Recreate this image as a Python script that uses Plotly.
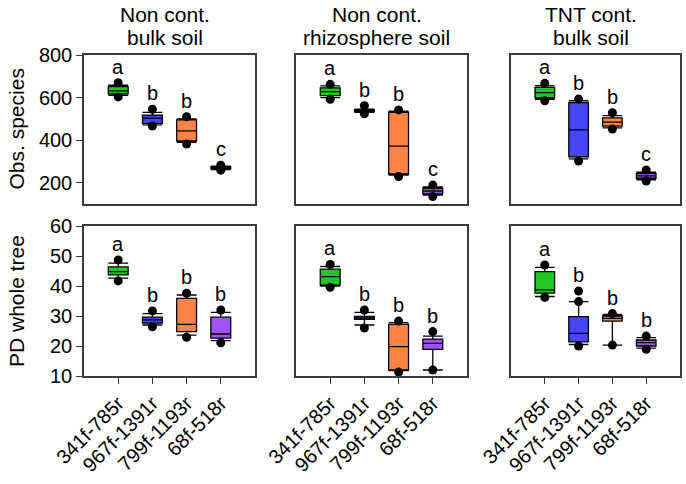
import plotly.graph_objects as go
from plotly.subplots import make_subplots

W, H = 686, 484

categories = ["341f-785r", "967f-1391r", "799f-1193r", "68f-518r"]
title_line1 = ["Non cont.", "Non cont.", "TNT cont."]
title_line2 = ["bulk soil", "rhizosphere soil", "bulk soil"]
row_titles = ["Obs. species", "PD whole tree"]
colors = ["#22C822", "#4646F8", "#FF8444", "#A052F5"]

# ---- Obs. species (top row): one list per panel, one value per primer pair
obs_q1 = [[617, 479, 397, 266], [609, 534, 241, 147], [599, 322, 466, 221]]
obs_med = [[631, 503, 444, 270], [628, 538, 372, 161], [623, 448, 485, 232]]
obs_q3 = [[651, 518, 495, 274], [646, 542, 531, 174], [648, 576, 505, 244]]
obs_lo = [[610, 472, 390, 262], [600, 530, 236, 142], [592, 312, 458, 214]]
obs_hi = [[658, 530, 500, 278], [655, 546, 536, 180], [656, 585, 515, 250]]
obs_pts = [
    [[670, 603], [545, 466], [510, 382], [282, 259]],
    [[662, 592], [562, 524], [542, 229], [189, 135]],
    [[667, 585], [593, 302], [529, 452], [260, 208]],
]
obs_letters = [["a", "b", "b", "c"], ["a", "b", "b", "c"], ["a", "b", "b", "c"]]

# ---- PD whole tree (bottom row)
pd_q1 = [[43.7, 27.6, 24.8, 22.6], [40.3, 28.9, 12.0, 18.9], [37.6, 21.4, 28.3, 20.0]]
pd_med = [[44.8, 28.7, 27.2, 24.0], [43.1, 29.4, 19.8, 20.9], [38.7, 24.2, 29.2, 21.1]]
pd_q3 = [[46.4, 29.6, 35.9, 29.6], [45.6, 29.9, 27.2, 22.3], [44.8, 29.8, 30.0, 22.0]]
pd_lo = [[42.6, 27.0, 23.6, 21.8], [40.0, 27.0, 11.8, 12.0], [36.5, 20.5, 20.3, 19.3]]
pd_hi = [[47.6, 30.8, 37.0, 31.2], [46.5, 31.2, 27.8, 23.3], [46.2, 34.8, 30.5, 22.8]]
pd_pts = [
    [[48.7, 41.7], [31.7, 26.4], [37.6, 22.9], [32.0, 21.1]],
    [[47.2, 39.6], [32.0, 26.0], [28.3, 11.3], [24.8, 12.0]],
    [[47.0, 36.2], [38.3, 34.8, 20.0], [30.8, 20.3], [23.3, 18.9]],
]
pd_letters = [["a", "b", "b", "b"], ["a", "b", "b", "b"], ["a", "b", "b", "b"]]

y_ranges = [[100, 800], [10, 60]]
y_dticks = [200, 10]

FONT = "Liberation Sans, Arial, sans-serif"

fig = make_subplots(rows=2, cols=3)

col_px = [(84, 255), (296, 467), (511, 680)]
row_px = [(55, 204), (226, 376)]

rows_data = [
    (obs_q1, obs_med, obs_q3, obs_lo, obs_hi, obs_pts, obs_letters),
    (pd_q1, pd_med, pd_q3, pd_lo, pd_hi, pd_pts, pd_letters),
]

for r, (q1s, meds, q3s, los, his, ptss, lets) in enumerate(rows_data):
    for c in range(3):
        for k, cat in enumerate(categories):
            fig.add_trace(go.Box(
                x=[cat], q1=[q1s[c][k]], median=[meds[c][k]], q3=[q3s[c][k]],
                lowerfence=[los[c][k]], upperfence=[his[c][k]],
                fillcolor=colors[k], line=dict(color="black", width=1.3),
                width=0.58, whiskerwidth=1, boxpoints=False, showlegend=False,
                hoverinfo="skip",
            ), row=r + 1, col=c + 1)
            pts = ptss[c][k]
            fig.add_trace(go.Scatter(
                x=[cat] * len(pts), y=pts, mode="markers",
                marker=dict(color="black", size=9), showlegend=False,
                hoverinfo="skip",
            ), row=r + 1, col=c + 1)
            fig.add_annotation(
                x=cat, y=max(pts), text=lets[c][k], showarrow=False,
                yanchor="middle", yshift=16,
                font=dict(family=FONT, size=20, color="black"),
                row=r + 1, col=c + 1,
            )

for r in range(2):
    for c in range(3):
        idx = r * 3 + c + 1
        xa = "xaxis" if idx == 1 else f"xaxis{idx}"
        ya = "yaxis" if idx == 1 else f"yaxis{idx}"
        x0, x1 = col_px[c]
        y0, y1 = row_px[r]
        fig.layout[xa].update(
            domain=[x0 / W, x1 / W], range=[-1, 4], type="category",
            categoryorder="array", categoryarray=categories, automargin=False,
            showline=True, mirror=True, linecolor="#3c3c3c", linewidth=1.5,
            showgrid=False, zeroline=False,
            ticks="outside" if r == 1 else "", ticklen=6, tickcolor="#3c3c3c",
            showticklabels=(r == 1), tickangle=-45,
            tickfont=dict(family=FONT, size=20, color="black"),
        )
        fig.layout[ya].update(
            domain=[1 - y1 / H, 1 - y0 / H], range=y_ranges[r], dtick=y_dticks[r],
            automargin=False,
            showline=True, mirror=True, linecolor="#3c3c3c", linewidth=1.5,
            showgrid=False, zeroline=False,
            ticks="outside" if c == 0 else "", ticklen=6, tickcolor="#3c3c3c",
            showticklabels=(c == 0),
            tickfont=dict(family=FONT, size=20, color="black"),
        )

for c in range(3):
    x0, x1 = col_px[c]
    xc = ((x0 + x1) / 2 - 5) / W
    fig.add_annotation(
        x=xc, y=1 - 14 / H, xref="paper", yref="paper",
        text=title_line1[c], showarrow=False, yanchor="middle", xanchor="center",
        font=dict(family=FONT, size=21, color="black"),
    )
    fig.add_annotation(
        x=xc, y=1 - 38 / H, xref="paper", yref="paper",
        text=title_line2[c], showarrow=False, yanchor="middle", xanchor="center",
        font=dict(family=FONT, size=21, color="black"),
    )

for r in range(2):
    y0, y1 = row_px[r]
    fig.add_annotation(
        x=16 / W, y=1 - ((y0 + y1) / 2) / H, xref="paper", yref="paper",
        text=row_titles[r], showarrow=False, textangle=-90,
        xanchor="center", yanchor="middle",
        font=dict(family=FONT, size=21, color="black"),
    )

fig.update_layout(
    width=W, height=H, margin=dict(l=0, r=0, t=0, b=0),
    paper_bgcolor="white", plot_bgcolor="white",
)

fig.write_html(
    "out.html",
    config={"displayModeBar": False},
    post_script="document.body.style.margin='0';document.documentElement.style.overflow='hidden';",
)
